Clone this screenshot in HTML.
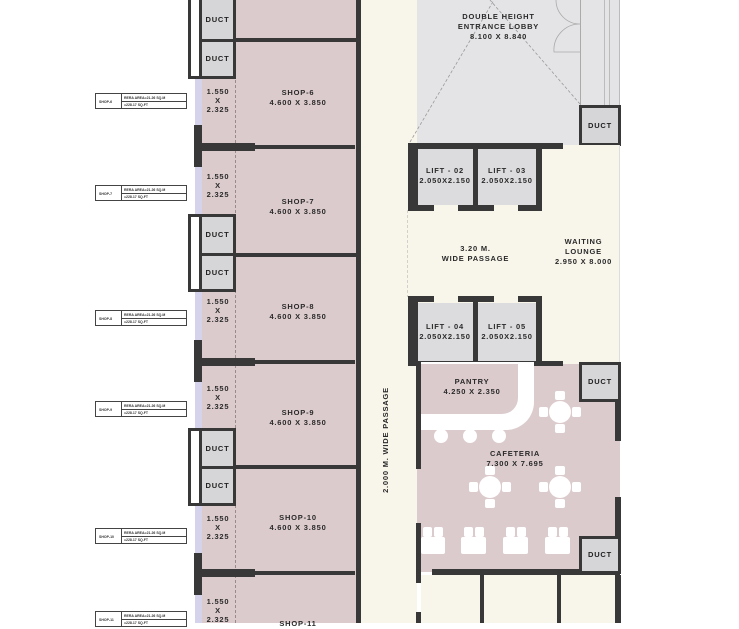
<!DOCTYPE html>
<html><head><meta charset="utf-8"><style>
body{margin:0;width:739px;height:623px;overflow:hidden;background:#fff;position:relative;font-family:"Liberation Sans",sans-serif}
div{position:absolute;box-sizing:border-box}
.w{background:#383838}
.p{background:#dccbcd}
.c{background:#f8f5ea}
.t{font-weight:bold;font-size:7.5px;color:#2a2a2a;text-align:center;letter-spacing:.8px;line-height:10px;white-space:nowrap}
.duct{border:3px solid #383838;background:#d6d6d8}
.duct span{position:absolute;left:0;right:0;top:50%;margin-top:-5px;text-align:center;font-weight:bold;font-size:7.5px;letter-spacing:.8px;color:#222;line-height:10px}
.ws{background:#fff;border:3px solid #383838;border-right:none}
.tb{border:1px solid #444;background:#fff;height:16px;width:92px}
.tb:before{content:"";position:absolute;left:25px;top:0;bottom:0;border-left:1px solid #444}
.tb:after{content:"";position:absolute;left:25px;right:0;top:7px;border-top:1px solid #444}
.tb i{position:absolute;font-style:normal;font-size:3.5px;font-weight:bold;color:#333;white-space:nowrap}
.ch{background:#fff;border-radius:50%}
.sq{background:#fff;border-radius:2px}
</style></head><body>
<!-- left shops -->
<div class="p" style="left:200px;top:0;width:160px;height:623px"></div>
<div style="left:195px;top:0;width:7px;height:623px;background:#d5d3ec"></div>
<div style="left:235px;top:0;width:0;height:623px;border-left:1px dashed #9a8a8c"></div>
<div class="w" style="left:356px;top:0;width:5px;height:623px"></div>
<!-- passage -->
<div class="c" style="left:361px;top:0;width:56px;height:623px"></div>
<div class="t" style="left:386px;top:440px;transform:translate(-50%,-50%) rotate(-90deg)">2.000 M. WIDE PASSAGE</div>

<!-- shop walls -->
<div class="w" style="left:200px;top:38px;width:160px;height:4px"></div>
<div class="w" style="left:195px;top:145px;width:160px;height:4px"></div>
<div class="w" style="left:200px;top:253px;width:160px;height:4px"></div>
<div class="w" style="left:195px;top:360px;width:160px;height:4px"></div>
<div class="w" style="left:200px;top:465px;width:160px;height:4px"></div>
<div class="w" style="left:195px;top:571px;width:160px;height:4px"></div>
<div class="w" style="left:195px;top:143px;width:60px;height:8px"></div>
<div class="w" style="left:195px;top:358px;width:60px;height:8px"></div>
<div class="w" style="left:195px;top:569px;width:60px;height:8px"></div>
<div class="w" style="left:194px;top:125px;width:8px;height:42px"></div>
<div class="w" style="left:194px;top:340px;width:8px;height:42px"></div>
<div class="w" style="left:194px;top:553px;width:8px;height:42px"></div>

<!-- ducts left -->
<div class="ws" style="left:188px;top:0;width:14px;height:79px;border-top:none"></div>
<div class="ws" style="left:188px;top:214px;width:14px;height:78px"></div>
<div class="ws" style="left:188px;top:428px;width:14px;height:78px"></div>
<div class="duct" style="left:199px;top:0;width:37px;height:42px;border-top:none"><span>DUCT</span></div>
<div class="duct" style="left:199px;top:39px;width:37px;height:40px"><span>DUCT</span></div>
<div class="duct" style="left:199px;top:214px;width:37px;height:42px"><span>DUCT</span></div>
<div class="duct" style="left:199px;top:253px;width:37px;height:39px"><span>DUCT</span></div>
<div class="duct" style="left:199px;top:428px;width:37px;height:41px"><span>DUCT</span></div>
<div class="duct" style="left:199px;top:466px;width:37px;height:40px"><span>DUCT</span></div>

<!-- shop labels -->
<div class="t" style="left:240px;top:88px;width:116px">SHOP-6<br>4.600 X 3.850</div>
<div class="t" style="left:240px;top:197px;width:116px">SHOP-7<br>4.600 X 3.850</div>
<div class="t" style="left:240px;top:302px;width:116px">SHOP-8<br>4.600 X 3.850</div>
<div class="t" style="left:240px;top:408px;width:116px">SHOP-9<br>4.600 X 3.850</div>
<div class="t" style="left:240px;top:513px;width:116px">SHOP-10<br>4.600 X 3.850</div>
<div class="t" style="left:240px;top:619px;width:116px">SHOP-11</div>
<div class="t" style="left:202px;top:87px;width:32px;line-height:9px">1.550<br>X<br>2.325</div>
<div class="t" style="left:202px;top:172px;width:32px;line-height:9px">1.550<br>X<br>2.325</div>
<div class="t" style="left:202px;top:297px;width:32px;line-height:9px">1.550<br>X<br>2.325</div>
<div class="t" style="left:202px;top:384px;width:32px;line-height:9px">1.550<br>X<br>2.325</div>
<div class="t" style="left:202px;top:514px;width:32px;line-height:9px">1.550<br>X<br>2.325</div>
<div class="t" style="left:202px;top:597px;width:32px;line-height:9px">1.550<br>X<br>2.325</div>

<!-- left tables -->
<div class="tb" style="left:95px;top:93px"><i style="left:3px;top:6px">SHOP-6</i><i style="left:28px;top:2px">RERA AREA=21.26 SQ.M</i><i style="left:28px;top:9px">=228.17 SQ.FT</i></div>
<div class="tb" style="left:95px;top:185px"><i style="left:3px;top:6px">SHOP-7</i><i style="left:28px;top:2px">RERA AREA=21.26 SQ.M</i><i style="left:28px;top:9px">=228.17 SQ.FT</i></div>
<div class="tb" style="left:95px;top:310px"><i style="left:3px;top:6px">SHOP-8</i><i style="left:28px;top:2px">RERA AREA=21.26 SQ.M</i><i style="left:28px;top:9px">=228.17 SQ.FT</i></div>
<div class="tb" style="left:95px;top:401px"><i style="left:3px;top:6px">SHOP-9</i><i style="left:28px;top:2px">RERA AREA=21.26 SQ.M</i><i style="left:28px;top:9px">=228.17 SQ.FT</i></div>
<div class="tb" style="left:95px;top:528px"><i style="left:3px;top:6px">SHOP-10</i><i style="left:28px;top:2px">RERA AREA=21.26 SQ.M</i><i style="left:28px;top:9px">=228.17 SQ.FT</i></div>
<div class="tb" style="left:95px;top:611px"><i style="left:3px;top:6px">SHOP-11</i><i style="left:28px;top:2px">RERA AREA=21.26 SQ.M</i><i style="left:28px;top:9px">=228.17 SQ.FT</i></div>

<!-- lobby -->
<div style="left:417px;top:0;width:203px;height:145px;background:#e4e4e6"></div>
<div style="left:580px;top:0;width:40px;height:107px;border-left:1px solid #aaa;border-right:1px solid #bbb"></div>
<div style="left:604px;top:0;width:6px;height:107px;border-left:1px solid #bbb;border-right:1px solid #bbb"></div>
<svg style="position:absolute;left:0;top:0" width="739" height="623">
<line x1="410" y1="142" x2="494" y2="0" stroke="#999" stroke-dasharray="3,2" stroke-width=".8"/>
<line x1="580" y1="104" x2="490" y2="0" stroke="#999" stroke-dasharray="3,2" stroke-width=".8"/>
<path d="M556 0 A24 24 0 0 0 580 24 M580 24 A26 26 0 0 0 554 52 L580 52" fill="none" stroke="#aaa" stroke-width=".8"/>
<line x1="408" y1="210" x2="408" y2="297" stroke="#aaa" stroke-dasharray="3,2"/>
<line x1="543" y1="210" x2="543" y2="297" stroke="#aaa" stroke-dasharray="3,2"/>
</svg>
<div class="t" style="left:417px;top:12px;width:163px">DOUBLE HEIGHT<br>ENTRANCE LOBBY<br>8.100 X 8.840</div>
<div class="duct" style="left:579px;top:105px;width:42px;height:41px"><span>DUCT</span></div>

<!-- lifts -->
<div class="c" style="left:408px;top:145px;width:212px;height:220px"></div>
<div style="left:547px;top:145px;width:73px;height:220px;background:#f8f5ea;border-right:1px solid #ddd"></div>
<div class="w" style="left:408px;top:143px;width:155px;height:6px"></div>
<div style="left:414px;top:149px;width:60px;height:56px;background:#dcdcde"></div>
<div style="left:478px;top:149px;width:60px;height:56px;background:#dcdcde"></div>
<div class="w" style="left:408px;top:143px;width:10px;height:68px"></div>
<div class="w" style="left:473px;top:143px;width:5px;height:68px"></div>
<div class="w" style="left:536px;top:143px;width:6px;height:68px"></div>
<div class="w" style="left:408px;top:205px;width:26px;height:6px"></div>
<div class="w" style="left:458px;top:205px;width:36px;height:6px"></div>
<div class="w" style="left:518px;top:205px;width:24px;height:6px"></div>
<div class="t" style="left:414px;top:166px;width:62px">LIFT - 02<br>2.050X2.150</div>
<div class="t" style="left:476px;top:166px;width:62px">LIFT - 03<br>2.050X2.150</div>
<div class="t" style="left:408px;top:244px;width:135px">3.20 M.<br>WIDE PASSAGE</div>
<div class="t" style="left:547px;top:237px;width:73px">WAITING<br>LOUNGE<br>2.950 X 8.000</div>

<div style="left:414px;top:303px;width:60px;height:60px;background:#dcdcde"></div>
<div style="left:478px;top:303px;width:60px;height:60px;background:#dcdcde"></div>
<div class="w" style="left:408px;top:296px;width:10px;height:68px"></div>
<div class="w" style="left:473px;top:296px;width:5px;height:68px"></div>
<div class="w" style="left:536px;top:296px;width:6px;height:68px"></div>
<div class="w" style="left:408px;top:296px;width:26px;height:6px"></div>
<div class="w" style="left:458px;top:296px;width:36px;height:6px"></div>
<div class="w" style="left:518px;top:296px;width:24px;height:6px"></div>
<div class="t" style="left:414px;top:322px;width:62px">LIFT - 04<br>2.050X2.150</div>
<div class="t" style="left:476px;top:322px;width:62px">LIFT - 05<br>2.050X2.150</div>

<!-- cafeteria -->
<div class="p" style="left:417px;top:364px;width:203px;height:208px"></div>
<div class="w" style="left:408px;top:361px;width:155px;height:5px"></div>
<div class="w" style="left:416px;top:361px;width:5px;height:108px"></div>
<div class="w" style="left:416px;top:523px;width:5px;height:60px"></div>
<div class="w" style="left:615px;top:365px;width:6px;height:76px"></div>
<div class="w" style="left:615px;top:497px;width:6px;height:75px"></div>
<div class="w" style="left:432px;top:569px;width:188px;height:6px"></div>
<div class="duct" style="left:579px;top:362px;width:42px;height:40px"><span>DUCT</span></div>
<div class="duct" style="left:579px;top:536px;width:42px;height:38px"><span>DUCT</span></div>
<!-- pantry counter -->
<div style="left:421px;top:362px;width:113px;height:68px;background:#fff;border-radius:0 0 28px 0"></div>
<div class="p" style="left:421px;top:364px;width:97px;height:50px;border-radius:0 0 16px 0"></div>
<div class="t" style="left:417px;top:377px;width:110px">PANTRY<br>4.250 X 2.350</div>
<div class="ch" style="left:434px;top:429px;width:14px;height:14px"></div>
<div class="ch" style="left:463px;top:429px;width:14px;height:14px"></div>
<div class="ch" style="left:492px;top:429px;width:14px;height:14px"></div>
<div class="t" style="left:460px;top:449px;width:110px">CAFETERIA<br>7.300 X 7.695</div>
<!-- round tables -->
<div class="ch" style="left:549px;top:401px;width:22px;height:22px"></div>
<div class="sq" style="left:555px;top:391px;width:10px;height:9px"></div><div class="sq" style="left:555px;top:424px;width:10px;height:9px"></div><div class="sq" style="left:539px;top:407px;width:9px;height:10px"></div><div class="sq" style="left:572px;top:407px;width:9px;height:10px"></div>
<div class="ch" style="left:479px;top:476px;width:22px;height:22px"></div>
<div class="sq" style="left:485px;top:466px;width:10px;height:9px"></div><div class="sq" style="left:485px;top:499px;width:10px;height:9px"></div><div class="sq" style="left:469px;top:482px;width:9px;height:10px"></div><div class="sq" style="left:502px;top:482px;width:9px;height:10px"></div>
<div class="ch" style="left:549px;top:476px;width:22px;height:22px"></div>
<div class="sq" style="left:555px;top:466px;width:10px;height:9px"></div><div class="sq" style="left:555px;top:499px;width:10px;height:9px"></div><div class="sq" style="left:539px;top:482px;width:9px;height:10px"></div><div class="sq" style="left:572px;top:482px;width:9px;height:10px"></div>
<!-- booths -->
<div class="sq" style="left:421px;top:537px;width:24px;height:17px"></div><div class="sq" style="left:423px;top:527px;width:9px;height:10px"></div><div class="sq" style="left:434px;top:527px;width:9px;height:10px"></div>
<div class="sq" style="left:461px;top:537px;width:25px;height:17px"></div><div class="sq" style="left:464px;top:527px;width:9px;height:10px"></div><div class="sq" style="left:475px;top:527px;width:9px;height:10px"></div>
<div class="sq" style="left:503px;top:537px;width:25px;height:17px"></div><div class="sq" style="left:506px;top:527px;width:9px;height:10px"></div><div class="sq" style="left:517px;top:527px;width:9px;height:10px"></div>
<div class="sq" style="left:545px;top:537px;width:25px;height:17px"></div><div class="sq" style="left:548px;top:527px;width:9px;height:10px"></div><div class="sq" style="left:559px;top:527px;width:9px;height:10px"></div>
<!-- bottom area -->
<div class="c" style="left:421px;top:575px;width:199px;height:48px"></div>
<div class="w" style="left:480px;top:575px;width:4px;height:48px"></div>
<div class="w" style="left:557px;top:575px;width:4px;height:48px"></div>
<div class="w" style="left:615px;top:575px;width:6px;height:48px"></div>
<div class="w" style="left:416px;top:612px;width:5px;height:11px"></div>
</body></html>
